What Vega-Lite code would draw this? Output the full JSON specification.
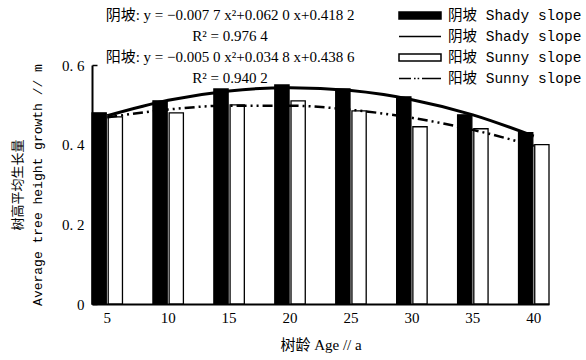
{
  "$schema": "https://vega.github.io/schema/vega-lite/v6.json",
  "width": 457,
  "height": 239,
  "autosize": {"type": "none"},
  "padding": {"left": 92, "top": 65, "right": 37, "bottom": 56},
  "background": "white",
  "config": {
    "view": {"stroke": null},
    "font": "Liberation Serif, Noto Sans CJK SC",
    "axis": {"labelColor": "black", "titleColor": "black", "domainColor": "black", "tickColor": "black", "labelFontSize": 15, "titleFontSize": 15, "titleFontWeight": "normal", "labelFont": "Liberation Serif, Noto Sans CJK SC", "titleFont": "Liberation Serif, Noto Sans CJK SC"}
  },
  "title": {
    "text": ["阴坡: y = −0.007 7 x²+0.062 0 x+0.418 2", "R² = 0.976 4", "阳坡: y = −0.005 0 x²+0.034 8 x+0.438 6", "R² = 0.940 2"],
    "anchor": "start",
    "frame": "group",
    "align": "center",
    "baseline": "bottom",
    "dx": 138,
    "offset": -96,
    "fontSize": 15,
    "fontWeight": "normal",
    "color": "black",
    "lineHeight": 21,
    "font": "Liberation Serif, Noto Sans CJK SC"
  },
  "datasets": {
    "bars": [
      {"age": 5, "slope": "A", "growth": 0.48},
      {"age": 10, "slope": "A", "growth": 0.51},
      {"age": 15, "slope": "A", "growth": 0.54},
      {"age": 20, "slope": "A", "growth": 0.55},
      {"age": 25, "slope": "A", "growth": 0.54},
      {"age": 30, "slope": "A", "growth": 0.52},
      {"age": 35, "slope": "A", "growth": 0.475},
      {"age": 40, "slope": "A", "growth": 0.43},
      {"age": 5, "slope": "C", "growth": 0.47},
      {"age": 10, "slope": "C", "growth": 0.48},
      {"age": 15, "slope": "C", "growth": 0.5},
      {"age": 20, "slope": "C", "growth": 0.51},
      {"age": 25, "slope": "C", "growth": 0.485},
      {"age": 30, "slope": "C", "growth": 0.445},
      {"age": 35, "slope": "C", "growth": 0.44},
      {"age": 40, "slope": "C", "growth": 0.4}
    ],
    "curves": [
      {"age": 5, "slope": "B", "growth": 0.4725},
      {"age": 10, "slope": "B", "growth": 0.5114},
      {"age": 15, "slope": "B", "growth": 0.5349},
      {"age": 20, "slope": "B", "growth": 0.543},
      {"age": 25, "slope": "B", "growth": 0.5357},
      {"age": 30, "slope": "B", "growth": 0.513},
      {"age": 35, "slope": "B", "growth": 0.4749},
      {"age": 40, "slope": "B", "growth": 0.4214},
      {"age": 5, "slope": "D", "growth": 0.4684},
      {"age": 10, "slope": "D", "growth": 0.4882},
      {"age": 15, "slope": "D", "growth": 0.498},
      {"age": 20, "slope": "D", "growth": 0.4978},
      {"age": 25, "slope": "D", "growth": 0.4876},
      {"age": 30, "slope": "D", "growth": 0.4674},
      {"age": 35, "slope": "D", "growth": 0.4372},
      {"age": 40, "slope": "D", "growth": 0.397}
    ]
  },
  "encoding": {
    "x": {
      "field": "age",
      "type": "ordinal",
      "scale": {"type": "band", "paddingInner": 0.5, "paddingOuter": 0},
      "axis": {"title": "树龄 Age // a", "labelAngle": 0, "ticks": false, "labelPadding": 6, "domainWidth": 2, "titlePadding": 12}
    },
    "y": {
      "field": "growth",
      "type": "quantitative",
      "scale": {"domain": [0, 0.6], "nice": false, "zero": true},
      "axis": {
        "title": ["树高平均生长量", "Average tree height growth // m"],
        "titleFont": "Liberation Mono, Noto Sans CJK SC",
        "titleFontSize": 13,
        "titleLineHeight": 20,
        "values": [0, 0.2, 0.4, 0.6],
        "labelExpr": "datum.value == 0 ? '0' : replace(format(datum.value, '.1f'), '.', '. ')",
        "grid": false,
        "domainWidth": 2,
        "tickSize": -5,
        "tickWidth": 1.5,
        "labelPadding": 13,
        "titlePadding": 17
      }
    }
  },
  "layer": [
    {
      "data": {"name": "bars"},
      "mark": {"type": "bar", "stroke": "black", "strokeWidth": 1.3},
      "encoding": {
        "xOffset": {"field": "slope", "type": "nominal", "scale": {"paddingInner": 0.12}},
        "fill": {
          "field": "slope",
          "type": "nominal",
          "scale": {"domain": ["A", "B", "C", "D"], "range": ["black", "transparent", "white", "transparent"]}
        }
      }
    },
    {
      "data": {"name": "curves"},
      "transform": [{"filter": "datum.slope === 'B'"}],
      "mark": {"type": "line", "color": "black", "strokeWidth": 3, "interpolate": "monotone"},
      "encoding": {}
    },
    {
      "data": {"name": "curves"},
      "transform": [{"filter": "datum.slope === 'D'"}],
      "mark": {"type": "line", "color": "black", "strokeWidth": 2.5, "interpolate": "monotone", "strokeDash": [10, 4, 2, 4, 2, 4]},
      "encoding": {}
    },
    {
      "data": {"name": "curves"},
      "mark": {"type": "point", "opacity": 0},
      "encoding": {
        "fill": {"field": "slope", "type": "nominal"},
        "shape": {
          "field": "slope",
          "type": "nominal",
          "scale": {
            "domain": ["A", "B", "C", "D"],
            "range": ["M-2.1,-0.35H2.1V0.35H-2.1Z", "M-2.1,0H2.1", "M-2.1,-0.35H2.1V0.35H-2.1Z", "M-2.1,0H-0.9M-0.6,0H-0.44M-0.24,0H-0.08M0.2,0H2.1"]
          },
          "legend": {
            "title": null,
            "orient": "none",
            "legendX": 317,
            "legendY": -60.5,
            "padding": 0,
            "rowPadding": 3,
            "labelOffset": 17,
            "symbolSize": 400,
            "labelFont": "Liberation Mono, Noto Sans CJK SC",
            "labelFontSize": 14.5,
            "labelColor": "black",
            "labelLimit": 300,
            "labelExpr": "datum.value === 'A' || datum.value === 'B' ? '阴坡 Shady slope' : '阳坡 Sunny slope'",
            "encode": {
              "symbols": {
                "update": {
                  "fill": {"scale": "fill", "field": "value"},
                  "stroke": {"value": "black"},
                  "strokeWidth": {"signal": "datum.value === 'B' ? 3 : 1.5"},
                  "opacity": {"value": 1},
                  "shape": {"scale": "shape", "field": "value"},
                  "size": {"value": 400}
                }
              }
            }
          }
        }
      }
    }
  ]
}
